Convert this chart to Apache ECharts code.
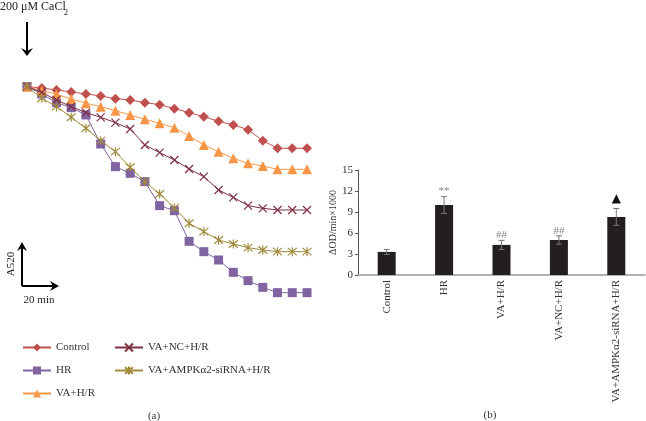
<!DOCTYPE html>
<html><head><meta charset="utf-8">
<script src="https://cdn.jsdelivr.net/npm/echarts@6/dist/echarts.min.js"></script>
<style>html,body{margin:0;padding:0;background:#fff}#c{width:646px;height:421px}</style>
</head><body><div id="c"></div>
<script>
// Left panel: A520 time course (arbitrary units), 20 time points
const timePoints = ['1','2','3','4','5','6','7','8','9','10','11','12','13','14','15','16','17','18','19','20'];
const controlVals = [64,63.6,63,62.4,61.8,61.2,60.4,60,59.2,58.6,57.4,56.2,55,53.6,52.5,51.1,47.8,45.5,45.5,45.5];
const hrVals = [64,61.8,59.2,57.7,55.5,46.8,40,38,35.5,28.3,26.8,17.6,14.5,12,8.3,5.8,3.8,2.2,2.2,2.2];
const vaHrVals = [64,62.8,61.7,60.3,59,58,56.8,55.5,54.2,53,51.7,49.2,46.5,44.5,42.5,41,40.2,39.2,39.2,39.2];
const vaNcVals = [64,62.3,60,58,56.2,54.8,53.2,51.3,46.5,44.2,42,39.3,37,33,30.8,28.3,27.5,27,27,27];
const vaSiVals = [64,60.5,58,54.8,51.5,47.8,44.5,39.8,35.5,31.8,27.7,23,20.5,18,16.8,15.7,15,14.5,14.5,14.5];
const seriesNames = ['Control','HR','VA+H/R','VA+NC+H/R','VA+AMPKα2-siRNA+H/R'];

// Right panel: ΔOD/min×1000
const barCats = ['Control','HR','VA+H/R','VA+NC+H/R','VA+AMPKα2-siRNA+H/R'];
const barVals = [3.3,10.0,4.3,5.0,8.3];
const barErr = [0.35,1.2,0.65,0.6,1.2];
const barMarks = ['','**','##','##','▲'];
const yTicks = [0,3,6,9,12,15];

const serif = '"Liberation Serif","DejaVu Serif",serif';
const colors = ['#c0504d','#8064a2','#f79646','#7e2f40','#a08a3c'];
const xPath = 'path://M0,0L10,10M10,0L0,10';
const starPath = 'path://M0,0L10,10M10,0L0,10M5,-1L5,11';

const chart = echarts.init(document.getElementById('c'));
const lineVals = [controlVals,hrVals,vaHrVals,vaNcVals,vaSiVals];
const symbols = ['diamond','rect','triangle',xPath,starPath];
const sizes = [10,9,10,8,9];

const lineSeries = lineVals.map((d,i)=>({
  name: seriesNames[i], type:'line', xAxisIndex:0, yAxisIndex:0, data:d,
  symbol: symbols[i], symbolSize: sizes[i], showAllSymbol:true,
  lineStyle:{color:colors[i],width:1},
  itemStyle: i>=3 ? {color:'rgba(0,0,0,0)',borderColor:colors[i],borderWidth:1.2} : {color:colors[i]},
  emphasis:{disabled:true}, animation:false, z: 2+i
}));

const legendText = {fontFamily:serif,fontSize:11,color:'#333'};

chart.setOption({
  animation:false,
  textStyle:{fontFamily:serif},
  grid:[
    {left:27, width:280, top:83.3, height:216.7},
    {left:358, right:1, top:170, height:105}
  ],
  legend:[
    {data:seriesNames.slice(0,3), orient:'vertical', left:22, top:342, padding:0, itemGap:12, itemWidth:28, itemHeight:10, textStyle:legendText},
    {data:seriesNames.slice(3), orient:'vertical', left:114, top:342, padding:0, itemGap:12, itemWidth:28, itemHeight:10, textStyle:legendText}
  ],
  xAxis:[
    {type:'category', gridIndex:0, data:timePoints, boundaryGap:false, show:false},
    {type:'category', gridIndex:1, data:barCats,
     axisLine:{lineStyle:{color:'#999',width:1.5}}, axisTick:{show:false},
     axisLabel:{rotate:90, fontFamily:serif, fontSize:11, color:'#333', margin:5, interval:0}}
  ],
  yAxis:[
    {type:'value', gridIndex:0, min:0, max:65, show:false},
    {type:'value', gridIndex:1, min:yTicks[0], max:yTicks[yTicks.length-1], interval:3,
     splitLine:{show:false},
     axisLine:{show:true,lineStyle:{color:'#555'}}, axisTick:{show:true,length:3,lineStyle:{color:'#555'}},
     axisLabel:{fontFamily:serif,fontSize:11,color:'#333',margin:5},
     name:'ΔOD/min×1000', nameLocation:'middle', nameGap:18, nameRotate:90,
     nameTextStyle:{fontFamily:serif,fontSize:10,color:'#333'}}
  ],
  series: lineSeries.concat([
    {type:'bar', xAxisIndex:1, yAxisIndex:1, data:barVals, barWidth:18, itemStyle:{color:'#231f20'}, z:2},
    {type:'custom', xAxisIndex:1, yAxisIndex:1, z:3,
     data: barVals.map((v,i)=>[i, v, barErr[i]]),
     renderItem:(params, api)=>{
       const x = api.coord([api.value(0), 0])[0];
       const yl = api.coord([api.value(0), api.value(1)-api.value(2)])[1];
       const yh = api.coord([api.value(0), api.value(1)+api.value(2)])[1];
       const st = {stroke:'#777', lineWidth:1};
       return {type:'group', children:[
         {type:'line', shape:{x1:x,y1:yl,x2:x,y2:yh}, style:st},
         {type:'line', shape:{x1:x-3,y1:yh,x2:x+3,y2:yh}, style:st},
         {type:'line', shape:{x1:x-3,y1:yl,x2:x+3,y2:yl}, style:st}
       ]};
     }},
    {type:'custom', xAxisIndex:1, yAxisIndex:1, z:4,
     data: barVals.map((v,i)=>[i, v+barErr[i], barMarks[i]]),
     renderItem:(params, api)=>{
       const p = api.coord([api.value(0), api.value(1)]);
       const m = barMarks[params.dataIndex];
       const tri = m==='▲';
       return {type:'text', x:p[0], y:p[1]-(tri?10:5),
         style:{text:m, fontFamily: tri?'"DejaVu Sans",sans-serif':serif, fontSize: tri?12:11,
           fill: tri?'#111':'#888', align:'center', verticalAlign:'middle'}};
     }}
  ]),
  graphic:[
    {type:'text', left:0, top:1, style:{text:'200 μM CaCl', fontFamily:serif, fontSize:12, fill:'#222'}},
    {type:'text', left:64, top:9, style:{text:'2', fontFamily:serif, fontSize:8, fill:'#222'}},
    {type:'line', shape:{x1:27,y1:22,x2:27,y2:52}, style:{stroke:'#000',lineWidth:2}},
    {type:'polygon', shape:{points:[[21,48],[27,56],[33,48],[27,51]]}, style:{fill:'#000'}},
    {type:'line', shape:{x1:22,y1:286,x2:22,y2:246}, style:{stroke:'#000',lineWidth:2}},
    {type:'polygon', shape:{points:[[17,251],[22,242],[27,251],[22,248]]}, style:{fill:'#000'}},
    {type:'line', shape:{x1:22,y1:286,x2:54,y2:286}, style:{stroke:'#000',lineWidth:2}},
    {type:'polygon', shape:{points:[[50,281],[59,286],[50,291],[53,286]]}, style:{fill:'#000'}},
    {type:'text', x:11, y:264, rotation:Math.PI/2, style:{text:'A520', fontFamily:serif, fontSize:11, fill:'#222', align:'center', verticalAlign:'middle'}},
    {type:'text', x:39, y:300, style:{text:'20 min', fontFamily:serif, fontSize:11, fill:'#222', align:'center', verticalAlign:'middle'}},
    {type:'text', x:154, y:416, style:{text:'(a)', fontFamily:serif, fontSize:11, fill:'#333', align:'center', verticalAlign:'middle'}},
    {type:'text', x:490, y:415, style:{text:'(b)', fontFamily:serif, fontSize:11, fill:'#333', align:'center', verticalAlign:'middle'}}
  ]
});
</script></body></html>
